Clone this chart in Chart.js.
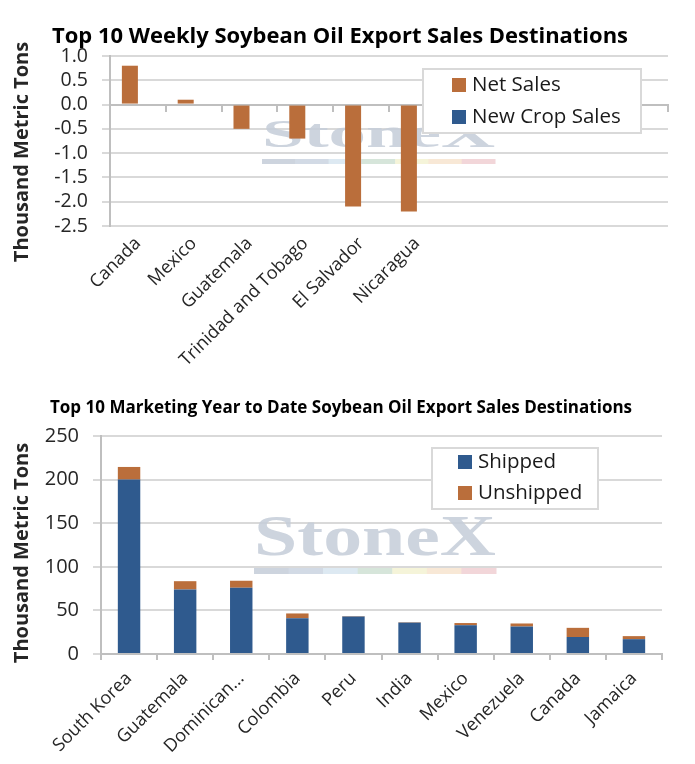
<!DOCTYPE html>
<html>
<head>
<meta charset="utf-8">
<script src="https://cdn.jsdelivr.net/npm/chart.js@4.4.1/dist/chart.umd.min.js"></script>
<style>
  html, body { margin: 0; padding: 0; background: #fff; }
  .box { position: relative; width: 695px; }
  #weekly-box { height: 385px; }
  #mytd-box { height: 379px; }
</style>
</head>
<body>
<div class="box" id="weekly-box"><canvas id="weekly-chart"></canvas></div>
<div class="box" id="mytd-box"><canvas id="mytd-chart"></canvas></div>
<script>
// weekly chart data (thousand metric tons)
const weeklyCountries = ["Canada", "Mexico", "Guatemala", "Trinidad and Tobago", "El Salvador", "Nicaragua", "", "", "", ""];
const weeklyNetSales = [0.8, 0.1, -0.5, -0.7, -2.1, -2.2, null, null, null, null];
const weeklyNewCrop = [0, 0, 0, 0, 0, 0, null, null, null, null];

// marketing year to date data (thousand metric tons)
const mytdCountries = ["South Korea", "Guatemala", "Dominican...", "Colombia", "Peru", "India", "Mexico", "Venezuela", "Canada", "Jamaica"];
const mytdShipped = [200, 74, 76, 41, 43, 36, 33, 31.5, 19.5, 17];
const mytdUnshipped = [14.5, 9.5, 8, 5.5, 0.5, 0.5, 2.5, 3.5, 10.5, 3.5];

const FONT = "'Open Sans', sans-serif";
const ORANGE = "#BA6E3B";
const BLUE = "#2F5A8E";
const GRID = "#D9D9D9";
const AXIS = "#BFBFBF";
const stripeColors = ["#CDD4DE", "#D2DAE5", "#DDE9F2", "#D6E5DA", "#F5F4D9", "#F8E8D6", "#F2D6D9"];

Chart.defaults.font.family = FONT;
Chart.defaults.color = "#262626";

const chartText = {
  id: "chartText",
  afterDraw(chart, args, o) {
    const ctx = chart.ctx;
    ctx.save();
    ctx.textAlign = "center";
    ctx.textBaseline = "middle";
    ctx.fillStyle = "#000";
    ctx.font = `bold ${o.titleSize}px ${FONT}`;
    ctx.fillText(o.title, o.titleX, o.titleY, o.titleWidth);
    ctx.translate(o.axisX, o.axisY);
    ctx.rotate(-Math.PI / 2);
    ctx.fillStyle = "#262626";
    ctx.font = `bold ${o.axisSize}px ${FONT}`;
    ctx.fillText(o.axisTitle, 0, 0);
    ctx.restore();
  }
};

const watermark = {
  id: "watermark",
  beforeDatasetsDraw(chart, args, o) {
    const ctx = chart.ctx;
    ctx.save();
    ctx.font = `bold ${o.size}px 'Liberation Serif', 'DejaVu Serif', serif`;
    const w = ctx.measureText("StoneX").width;
    ctx.translate(o.x, o.baseline);
    ctx.scale(o.width / w, 1);
    ctx.fillStyle = "rgba(196,205,216,0.85)";
    ctx.textBaseline = "alphabetic";
    ctx.fillText("StoneX", 0, 0);
    ctx.restore();
    const seg = o.width / stripeColors.length;
    stripeColors.forEach((c, i) => {
      ctx.fillStyle = c;
      ctx.fillRect(o.x + i * seg, o.stripeY, seg + 0.5, o.stripeH);
    });
  }
};

const boxLegend = {
  id: "boxLegend",
  afterDraw(chart, args, o) {
    const ctx = chart.ctx;
    ctx.save();
    ctx.fillStyle = "#fff";
    ctx.fillRect(o.x, o.y, o.w, o.h);
    ctx.strokeStyle = GRID;
    ctx.lineWidth = 2;
    ctx.strokeRect(o.x, o.y, o.w, o.h);
    ctx.font = `${o.size}px ${FONT}`;
    ctx.textBaseline = "middle";
    ctx.textAlign = "left";
    chart.data.datasets.forEach((ds, i) => {
      const y = o.rows[i];
      ctx.fillStyle = ds.backgroundColor;
      ctx.fillRect(o.swatchX, y - 7, 14, 14);
      ctx.fillStyle = "#1a1a1a";
      ctx.fillText(ds.label, o.textX, y);
    });
    ctx.restore();
  }
};

new Chart(document.getElementById("weekly-chart"), {
  type: "bar",
  data: {
    labels: weeklyCountries,
    datasets: [
      { label: "Net Sales", data: weeklyNetSales, backgroundColor: ORANGE, xAxisID: "x", yAxisID: "y" },
      { label: "New Crop Sales", data: weeklyNewCrop, backgroundColor: BLUE, xAxisID: "x", yAxisID: "y" }
    ]
  },
  options: {
    responsive: true,
    maintainAspectRatio: false,
    animation: false,
    categoryPercentage: 0.574,
    barPercentage: 1.0,
    layout: { padding: { top: 56, right: 27, left: 0, bottom: 0 } },
    plugins: {
      legend: { display: false },
      tooltip: { enabled: false },
      chartText: {
        title: "Top 10 Weekly Soybean Oil Export Sales Destinations",
        titleX: 340, titleY: 37, titleSize: 22, titleWidth: 576,
        axisTitle: "Thousand Metric Tons", axisX: 22, axisY: 152, axisSize: 20
      },
      watermark: { x: 262, baseline: 147, width: 233, size: 41, stripeY: 159, stripeH: 5 },
      boxLegend: { x: 423, y: 69, w: 218, h: 64, rows: [85, 117], swatchX: 452, textX: 472, size: 20.5 }
    },
    scales: {
      x: {
        type: "category",
        position: "bottom",
        grid: { display: false, drawTicks: false },
        border: { display: false },
        ticks: { autoSkip: false, maxRotation: 45, minRotation: 45, padding: 7, font: { size: 18 } },
        afterFit: s => { s.height = 159; }
      },
      x2: {
        type: "category",
        position: { y: 0 },
        offset: true,
        grid: { display: true, drawOnChartArea: false, offset: true, tickLength: 6, color: AXIS, lineWidth: 2 },
        border: { display: true, color: AXIS, width: 2 },
        ticks: { display: false }
      },
      y: {
        min: -2.5,
        max: 1.0,
        grid: { color: GRID, lineWidth: 2, tickLength: 8 },
        border: { display: true, color: AXIS, width: 2 },
        ticks: { stepSize: 0.5, autoSkip: false, padding: 14, font: { size: 19.5 }, callback: v => v.toFixed(1) },
        afterFit: s => { s.width = 110; }
      }
    }
  },
  plugins: [watermark, chartText, boxLegend]
});

new Chart(document.getElementById("mytd-chart"), {
  type: "bar",
  data: {
    labels: mytdCountries,
    datasets: [
      { label: "Shipped", data: mytdShipped, backgroundColor: BLUE },
      { label: "Unshipped", data: mytdUnshipped, backgroundColor: ORANGE }
    ]
  },
  options: {
    responsive: true,
    maintainAspectRatio: false,
    animation: false,
    categoryPercentage: 0.4,
    barPercentage: 1.0,
    layout: { padding: { top: 51, right: 33, left: 0, bottom: 0 } },
    plugins: {
      legend: { display: false },
      tooltip: { enabled: false },
      chartText: {
        title: "Top 10 Marketing Year to Date Soybean Oil Export Sales Destinations",
        titleX: 341, titleY: 23, titleSize: 17, titleWidth: 590,
        axisTitle: "Thousand Metric Tons", axisX: 22, axisY: 168, axisSize: 20
      },
      watermark: { x: 254, baseline: 170, width: 242, size: 56, stripeY: 183, stripeH: 6 },
      boxLegend: { x: 432, y: 63, w: 166, h: 61, rows: [77, 108], swatchX: 458, textX: 478, size: 20.5 }
    },
    scales: {
      x: {
        stacked: true,
        grid: { display: true, drawOnChartArea: false, offset: true, tickLength: 6, color: AXIS, lineWidth: 2 },
        border: { display: true, color: AXIS, width: 2 },
        ticks: { autoSkip: false, maxRotation: 45, minRotation: 45, padding: 8, font: { size: 18 } },
        afterFit: s => { s.height = 110; }
      },
      y: {
        stacked: true,
        min: 0,
        max: 250,
        grid: { color: GRID, lineWidth: 2, tickLength: 8 },
        border: { display: true, color: AXIS, width: 2 },
        ticks: { stepSize: 50, autoSkip: false, padding: 14, font: { size: 20 } },
        afterFit: s => { s.width = 101; }
      }
    }
  },
  plugins: [watermark, chartText, boxLegend]
});
</script>
</body>
</html>
